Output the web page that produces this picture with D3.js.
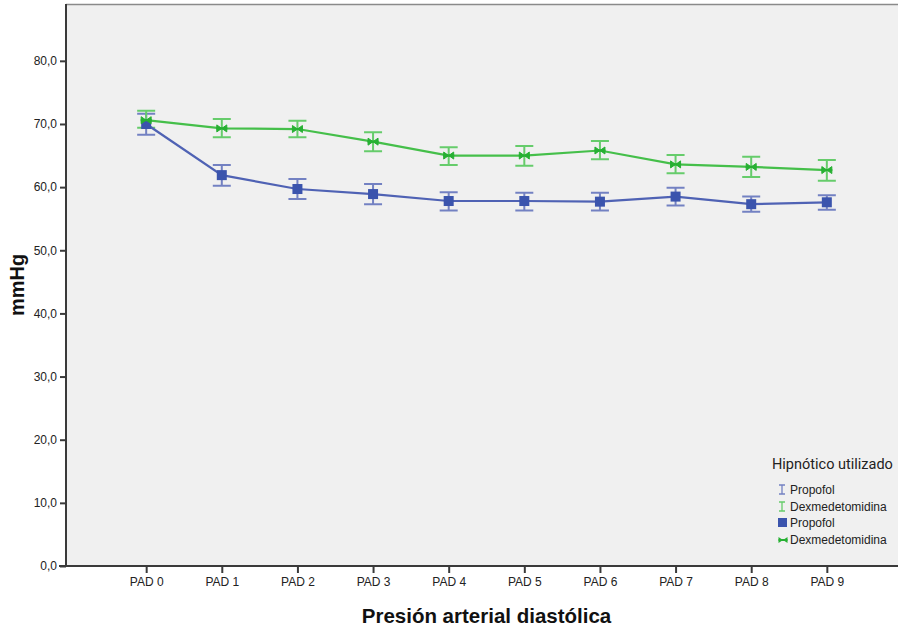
<!DOCTYPE html>
<html>
<head>
<meta charset="utf-8">
<script src="https://cdn.jsdelivr.net/npm/d3@7"></script>
<style>
  html, body { margin: 0; padding: 0; background: #ffffff; }
  svg { display: block; font-family: "Liberation Sans", Arial, sans-serif; }
</style>
</head>
<body>
<svg id="chart" width="898" height="628"></svg>
<script>
// Diastolic blood pressure by time point and hypnotic agent (mean ± error)
const categories = ["PAD 0", "PAD 1", "PAD 2", "PAD 3", "PAD 4", "PAD 5", "PAD 6", "PAD 7", "PAD 8", "PAD 9"];

const propofolMean = [70.0, 61.9, 59.7, 58.9, 57.8, 57.8, 57.7, 58.5, 57.3, 57.6];
const propofolLow  = [68.3, 60.2, 58.1, 57.3, 56.3, 56.3, 56.3, 57.1, 56.1, 56.4];
const propofolHigh = [71.6, 63.5, 61.3, 60.5, 59.2, 59.1, 59.1, 59.9, 58.5, 58.7];

const dexMean = [70.6, 69.3, 69.2, 67.2, 65.0, 65.0, 65.8, 63.6, 63.2, 62.7];
const dexLow  = [69.4, 67.9, 67.9, 65.7, 63.5, 63.4, 64.4, 62.2, 61.6, 61.0];
const dexHigh = [72.1, 70.8, 70.5, 68.7, 66.3, 66.5, 67.3, 65.1, 64.8, 64.3];

const yTicks = [0, 10, 20, 30, 40, 50, 60, 70, 80];

const seriesNames = ["Propofol", "Dexmedetomidina"];
const legendTitle = "Hipnótico utilizado";
const yTitle = "mmHg";
const xTitle = "Presión arterial diastólica";

const colors = {
  propofolLine: "#4f62b4",
  propofolMark: "#3b54ad",
  propofolErr: "#7381c2",
  dexLine: "#45bf4a",
  dexMark: "#27b033",
  dexErr: "#66cc6b"
};

const svg = d3.select("#chart");
const plot = { left: 66, top: 4, right: 907, bottom: 566 };

const x = d3.scalePoint()
  .domain(categories)
  .range([plot.left, plot.right])
  .padding(1.06);

const y = d3.scaleLinear()
  .domain([0, 89])
  .range([plot.bottom, plot.top]);

// plot background
svg.append("rect")
  .attr("x", plot.left).attr("y", plot.top)
  .attr("width", plot.right - plot.left).attr("height", plot.bottom - plot.top)
  .attr("fill", "#f0f0f0");

// top frame line
svg.append("line")
  .attr("x1", plot.left).attr("x2", plot.right)
  .attr("y1", plot.top + 0.5).attr("y2", plot.top + 0.5)
  .attr("stroke", "#8a8a8a").attr("stroke-width", 1.5);

// axes
const yAxis = d3.axisLeft(y)
  .tickValues(yTicks)
  .tickSize(6)
  .tickPadding(3)
  .tickFormat(d => d3.format(".1f")(d).replace(".", ","));

const gy = svg.append("g")
  .attr("transform", `translate(${plot.left},0)`)
  .call(yAxis);
gy.select(".domain").attr("stroke", "#3a3a3a").attr("stroke-width", 2)
  .attr("d", `M0,${plot.top}V${plot.bottom}`);
gy.selectAll(".tick line").attr("stroke", "#3a3a3a").attr("stroke-width", 2);
gy.selectAll(".tick text").attr("font-size", 12).attr("fill", "#222")
  .attr("font-family", "'Liberation Sans', Arial, sans-serif");

const xAxis = d3.axisBottom(x).tickSize(7).tickPadding(4);
const gx = svg.append("g")
  .attr("transform", `translate(0,${plot.bottom})`)
  .call(xAxis);
gx.select(".domain").attr("stroke", "#3a3a3a").attr("stroke-width", 2)
  .attr("d", `M${plot.left - 7},0H${plot.right}`);
gx.selectAll(".tick line").attr("stroke", "#3a3a3a").attr("stroke-width", 2);
gx.selectAll(".tick text").attr("font-size", 12).attr("fill", "#222")
  .attr("font-family", "'Liberation Sans', Arial, sans-serif");

// axis titles
svg.append("text")
  .attr("transform", `translate(24,${(plot.top + plot.bottom) / 2}) rotate(-90)`)
  .attr("text-anchor", "middle")
  .attr("font-size", 20).attr("font-weight", "bold").attr("fill", "#111")
  .text(yTitle);

svg.append("text")
  .attr("x", (plot.left + plot.right) / 2).attr("y", 623)
  .attr("text-anchor", "middle")
  .attr("font-size", 20.5).attr("font-weight", "bold").attr("fill", "#111")
  .text(xTitle);

const rows = (mean, lo, hi) => categories.map((c, i) => ({ c, m: mean[i], lo: lo[i], hi: hi[i] }));
const propRows = rows(propofolMean, propofolLow, propofolHigh);
const dexRows = rows(dexMean, dexLow, dexHigh);

const capW = 9;
function errorBars(data, color) {
  const g = svg.append("g").attr("stroke", color).attr("stroke-width", 2).attr("fill", "none");
  g.selectAll("path").data(data).join("path")
    .attr("d", d => {
      const cx = x(d.c), y1 = y(d.hi), y2 = y(d.lo);
      return `M${cx - capW},${y1}H${cx + capW}M${cx},${y1}V${y2}M${cx - capW},${y2}H${cx + capW}`;
    });
}
errorBars(propRows, colors.propofolErr);
errorBars(dexRows, colors.dexErr);

const line = d3.line().x(d => x(d.c)).y(d => y(d.m));
svg.append("path").datum(propRows).attr("d", line)
  .attr("fill", "none").attr("stroke", colors.propofolLine).attr("stroke-width", 2.2);
svg.append("path").datum(dexRows).attr("d", line)
  .attr("fill", "none").attr("stroke", colors.dexLine).attr("stroke-width", 2.2);

// markers
const sq = 10;
svg.append("g").selectAll("rect").data(propRows).join("rect")
  .attr("x", d => x(d.c) - sq / 2).attr("y", d => y(d.m) - sq / 2)
  .attr("width", sq).attr("height", sq)
  .attr("fill", colors.propofolMark);

const bowtie = "M-5,-3.5L0,0L-5,3.5ZM5,-3.5L0,0L5,3.5Z";
const gDex = svg.append("g").selectAll("g").data(dexRows).join("g")
  .attr("transform", d => `translate(${x(d.c)},${y(d.m)})`);
gDex.append("path").attr("d", bowtie).attr("fill", colors.dexMark)
  .attr("stroke", colors.dexMark).attr("stroke-width", 1);
gDex.append("line").attr("x1", -5.5).attr("x2", 5.5)
  .attr("stroke", colors.dexMark).attr("stroke-width", 2);

// legend
const lg = svg.append("g");
lg.append("text").attr("x", 772).attr("y", 469)
  .attr("font-size", 14.5).attr("fill", "#222")
  .attr("font-family", "Roboto, 'Liberation Sans', sans-serif")
  .text(legendTitle);

const itemY = [490, 507, 523, 540];
const itemText = [seriesNames[0], seriesNames[1], seriesNames[0], seriesNames[1]];
itemText.forEach((t, i) => {
  lg.append("text").attr("x", 790).attr("y", itemY[i] + 4)
    .attr("font-size", 12).attr("fill", "#222").text(t);
});
// error bar icons
[[0, colors.propofolErr], [1, colors.dexErr]].forEach(([i, c]) => {
  const cy = itemY[i], cx = 782;
  lg.append("path")
    .attr("d", `M${cx - 3},${cy - 5}H${cx + 3}M${cx},${cy - 5}V${cy + 4}M${cx - 3},${cy + 4}H${cx + 3}`)
    .attr("stroke", c).attr("stroke-width", 1.3).attr("fill", "none");
});
lg.append("rect").attr("x", 778).attr("y", itemY[2] - 5).attr("width", 9).attr("height", 9)
  .attr("fill", colors.propofolMark);
const lgDex = lg.append("g").attr("transform", `translate(783,${itemY[3]})`);
lgDex.append("path").attr("d", "M-4.5,-3L0,0L-4.5,3ZM4.5,-3L0,0L4.5,3Z").attr("fill", colors.dexMark);
lgDex.append("line").attr("x1", -4.5).attr("x2", 4.5).attr("stroke", colors.dexMark).attr("stroke-width", 2);
</script>
</body>
</html>
